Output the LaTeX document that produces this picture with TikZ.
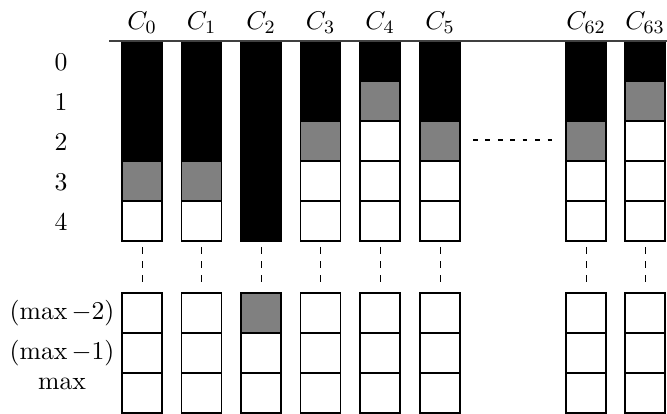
\documentclass[tikz,border=0pt]{standalone}
\usepackage{amsmath}
\tikzset{
  cell/.style={draw=black, line width=0.45pt, minimum width=0.6cm, minimum height=0.6cm, inner sep=0pt, outer sep=0pt},
  lbl/.style={inner sep=0pt, outer sep=0pt, font=\fontsize{10.8}{13}\selectfont},
  vdash/.style={dashed, line width=0.4pt},
  hdash/.style={dash pattern=on 2pt off 3.3pt, line width=0.45pt},
}
\newcommand\mycolumn[4]{%
  \node[lbl] (lab#2) at (#1,23) {$C_{#2}$};
  \foreach \f [count=\i from 0] in {#3} {
    \node[cell, fill=\f] (c#2r\i) at (#1,{61+40*\i}) {};
  }
  \foreach \f [count=\i from 0] in {#4} {
    \node[cell, fill=\f] (c#2b\i) at (#1,{313+40*\i}) {};
  }
  \coordinate (d#2a) at (#1,247);
  \coordinate (d#2b) at (#1,287);
  \draw[vdash] (d#2a) -- (d#2b);
}
\begin{document}
\begin{tikzpicture}[x=0.015cm, y=-0.015cm]
\useasboundingbox (0,0) rectangle (667,414);
\mycolumn{142}{0}{black,black,black,gray,white}{white,white,white}
\mycolumn{201.5}{1}{black,black,black,gray,white}{white,white,white}
\mycolumn{261}{2}{black,black,black,black,black}{gray,white,white}
\mycolumn{320.5}{3}{black,black,gray,white,white}{white,white,white}
\mycolumn{380}{4}{black,gray,white,white,white}{white,white,white}
\mycolumn{440}{5}{black,black,gray,white,white}{white,white,white}
\mycolumn{586}{62}{black,black,gray,white,white}{white,white,white}
\mycolumn{645}{63}{black,gray,white,white,white}{white,white,white}
% top line
\coordinate (tl) at (109,41);
\coordinate (tr) at (667,41);
\draw[line width=0.6pt, black!75] (tl) -- (tr);
% horizontal dots
\coordinate (ha) at (473,140);
\coordinate (hb) at (553,140);
\draw[hdash] (ha) -- (hb);
% row labels
\node[lbl] (r0) at (61,62) {$0$};
\node[lbl] (r1) at (61,102) {$1$};
\node[lbl] (r2) at (61,142) {$2$};
\node[lbl] (r3) at (61,182) {$3$};
\node[lbl] (r4) at (61,222) {$4$};
\node[lbl] (rm2) at (62,313) {$(\max -2)$};
\node[lbl] (rm1) at (62,353) {$(\max -1)$};
\node[lbl] (rm0) at (62,384) {$\max$};
\end{tikzpicture}
\end{document}
